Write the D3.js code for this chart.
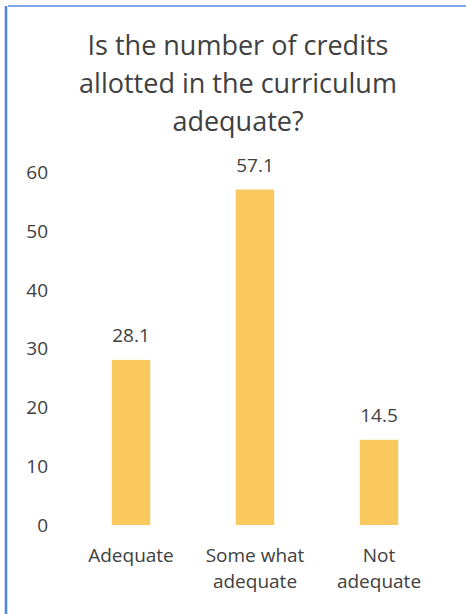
<!DOCTYPE html>
<html>
<head>
<meta charset="utf-8">
<script src="https://cdn.jsdelivr.net/npm/d3@7/dist/d3.min.js"></script>
<style>
  html, body { margin: 0; padding: 0; background: #fff; }
  svg { display: block; }
</style>
</head>
<body>
<svg id="chart" width="466" height="614"></svg>
<script>
const titleLines = ["Is the number of credits", "allotted in the curriculum", "adequate?"];
const categories = ["Adequate", "Some what adequate", "Not adequate"];
const categoryLines = [["Adequate"], ["Some what", "adequate"], ["Not", "adequate"]];
const values = [28.1, 57.1, 14.5];
const yTicks = [0, 10, 20, 30, 40, 50, 60];

const W = 466, H = 614;
const font = "'Open Sans', 'Noto Sans', sans-serif";
const textColor = "#404040";
const barColor = "#F9C85E";

const svg = d3.select("#chart");

// frame border (blue, partially visible)
svg.append("line").attr("x1", 8).attr("y1", 6).attr("x2", W).attr("y2", 6)
  .attr("stroke", "#7FA9EA").attr("stroke-width", 2);
svg.append("line").attr("x1", 6).attr("y1", 6).attr("x2", 6).attr("y2", H)
  .attr("stroke", "#4A86E3").attr("stroke-width", 2.5);

// title
svg.append("g").selectAll("text").data(titleLines).join("text")
  .attr("x", 238)
  .attr("y", (d, i) => 55 + i * 38)
  .attr("text-anchor", "middle")
  .attr("font-family", font)
  .attr("font-size", 27)
  .attr("fill", textColor)
  .text(d => d);

const x = d3.scaleBand().domain(categories).range([69, 441]).paddingInner(0.69).paddingOuter(0.345);
const y = d3.scaleLinear().domain([0, 60]).range([525, 172.5]);

// y axis (labels only)
const yAxis = svg.append("g").attr("transform", "translate(58,0)")
  .call(d3.axisLeft(y).tickValues(yTicks).tickSize(0).tickPadding(10));
yAxis.select(".domain").remove();
yAxis.selectAll("text").attr("font-family", font).attr("font-size", 19).attr("fill", textColor);

// bars
const data = categories.map((c, i) => ({ c, v: values[i], lines: categoryLines[i] }));
svg.append("g").selectAll("rect").data(data).join("rect")
  .attr("x", d => x(d.c))
  .attr("y", d => y(d.v))
  .attr("width", x.bandwidth())
  .attr("height", d => y(0) - y(d.v))
  .attr("fill", barColor);

// data labels
svg.append("g").selectAll("text").data(data).join("text")
  .attr("x", d => x(d.c) + x.bandwidth() / 2)
  .attr("y", d => y(d.v) - 18)
  .attr("text-anchor", "middle")
  .attr("font-family", font)
  .attr("font-size", 19)
  .attr("fill", textColor)
  .text(d => d.v.toFixed(1));

// category labels
const cat = svg.append("g").selectAll("text").data(data).join("text")
  .attr("x", d => x(d.c) + x.bandwidth() / 2)
  .attr("y", 562)
  .attr("text-anchor", "middle")
  .attr("font-family", font)
  .attr("font-size", 19)
  .attr("fill", textColor);
cat.selectAll("tspan").data(d => d.lines.map(l => ({ l, cx: x(d.c) + x.bandwidth() / 2 }))).join("tspan")
  .attr("x", d => d.cx)
  .attr("dy", (d, i) => i === 0 ? 0 : 26)
  .text(d => d.l);
</script>
</body>
</html>
